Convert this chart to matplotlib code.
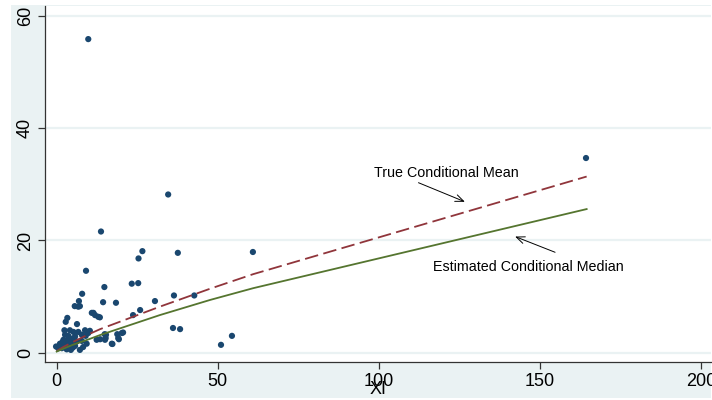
import numpy as np
import matplotlib
matplotlib.use("Agg")
from matplotlib import pyplot as plt
from matplotlib.patches import Rectangle

# scatter data
xi = [9.8, 34.6, 13.75, 37.6, 60.9, 36.4, 42.7, 36.1, 38.3, 51.0, 54.4,
      26.6, 25.4, 23.3, 25.3, 14.8, 14.4, 18.4, 30.5, 25.9, 23.7, 13.4,
      14.9, 15.2, 18.8, 20.6, 19.3, 17.3, 13.5, 9.1, 7.9, 6.9, 5.6, 6.7,
      11.4, 11.9, 12.9, 3.3, 2.8, 6.3, 2.4, 4.1, 5.2, 6.7, 8.8, 9.8, 2.6,
      3.8, 5.7, 7.8, 9.0, 2.1, 3.1, 4.7, 6.2, 7.8, 1.0, 2.6, 4.1, 5.7, 1.6,
      3.1, 4.4, 0.5, 7.2, 9.3, 10.3, 12.4, 15.0, 15.3, 17.1, 19.1, 20.2,
      -0.2, 164.3, 7.2, 10.9, 3.6, 4.8, 1.8, 2.2, 5.0, 3.5, 8.2]
yi = [55.9, 28.2, 21.6, 17.8, 17.95, 10.2, 10.2, 4.4, 4.2, 1.4, 3.0,
      18.1, 16.8, 12.3, 12.4, 11.7, 9.0, 8.9, 9.2, 7.6, 6.7, 6.3,
      3.3, 2.6, 3.3, 3.6, 2.4, 1.55, 2.4, 14.6, 10.5, 9.2, 8.3, 8.2,
      7.1, 6.7, 6.4, 6.2, 5.5, 5.1, 4.0, 4.0, 3.7, 3.7, 4.0, 3.5, 3.2,
      2.6, 2.9, 3.2, 3.0, 2.3, 2.0, 2.0, 2.0, 2.1, 1.6, 1.4, 1.4, 1.2, 0.8,
      0.6, 0.5, 0.8, 0.5, 1.6, 3.9, 2.3, 2.3, 3.2, 1.6, 2.6, 3.5,
      1.1, 34.7, 8.3, 7.1, 3.0, 2.5, 1.9, 1.1, 0.9, 2.2, 1.0]

# fitted lines
line_x = [0, 2, 5, 10, 13.5, 20, 32, 47.6, 61, 164.5]
mean_y = [0.3, 1.0, 1.9, 3.3, 4.2, 5.6, 8.2, 11.4, 14.0, 31.4]
median_y = [0.2, 0.7, 1.4, 2.4, 3.15, 4.4, 6.7, 9.4, 11.5, 25.6]

bg = '#eaf2f3'
navy = '#1a476f'
plt.rcParams['font.family'] = ['Liberation Sans', 'DejaVu Sans']

fig = plt.figure(figsize=(7.12, 4.0), dpi=100)
fig.patches.append(Rectangle((11/712, 2/400), 700/712, 393/400,
                             transform=fig.transFigure, facecolor=bg,
                             edgecolor='none', zorder=-10))
ax = fig.add_axes([45/712, 38/400, 666/712, 356/400])
ax.set_facecolor('white')

ax.set_xlim(-3.63, 203.1)
ax.set_ylim(-1.66, 61.8)
ax.set_yticks([0, 20, 40, 60])
ax.set_xticks([0, 50, 100, 150, 200])
ax.grid(axis='y', color=bg, linewidth=1.6)
ax.set_axisbelow(True)

for s in ['top', 'right']:
    ax.spines[s].set_visible(False)
for s in ['left', 'bottom']:
    ax.spines[s].set_color('#333333')
    ax.spines[s].set_linewidth(0.9)
ax.tick_params(direction='out', length=5, width=0.9, color='#333333',
               labelsize=13, pad=3)
plt.setp(ax.get_yticklabels(), rotation=90, va='center')

ax.scatter(xi, yi, s=20, color=navy, edgecolors='none', zorder=3)
ax.plot(line_x, mean_y, color='#90353b', linestyle=(0, (7.5, 3)), linewidth=1.3, zorder=4)
ax.plot(line_x, median_y, color='#55752f', linewidth=1.3, zorder=4)

# labels and arrows
ax.text(98.5, 32.0, 'True Conditional Mean', fontsize=10.3, va='center', ha='left')
ax.annotate('', xy=(126.7, 26.9), xytext=(112.3, 30.3),
            arrowprops=dict(arrowstyle='->,head_length=0.6,head_width=0.25',
                            color='black', lw=0.7, shrinkA=0, shrinkB=0))
ax.text(116.7, 15.2, 'Estimated Conditional Median', fontsize=10.3, va='center', ha='left')
ax.annotate('', xy=(142.3, 20.7), xytext=(154.7, 17.9),
            arrowprops=dict(arrowstyle='->,head_length=0.6,head_width=0.25',
                            color='black', lw=0.7, shrinkA=0, shrinkB=0))

fig.text(378/712, 1 - 389/400, 'XI', fontsize=13, ha='center', va='center')

fig.savefig('out.png', dpi=100, facecolor='white')
